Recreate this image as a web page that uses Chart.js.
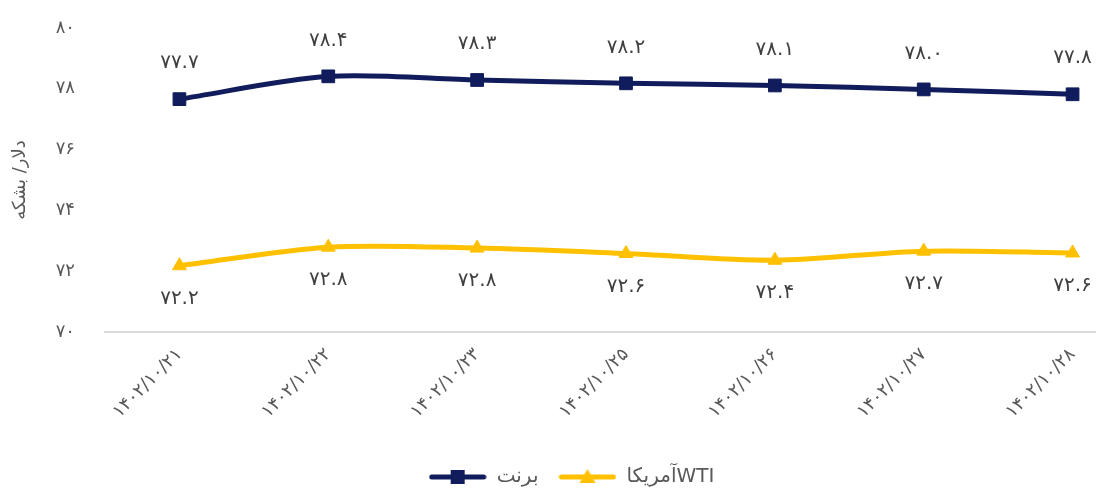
<!DOCTYPE html>
<html>
<head>
<meta charset="utf-8">
<script src="https://cdn.jsdelivr.net/npm/chart.js@4.4.1/dist/chart.umd.min.js"></script>
<style>
  html, body { margin: 0; padding: 0; background: #fff; overflow: hidden; }
  #wrap { width: 1157px; height: 497px; position: relative; }
</style>
</head>
<body>
<div id="wrap"><canvas id="c"></canvas></div>
<script>
// ---- data ----
const categories = ['1402/10/21', '1402/10/22', '1402/10/23', '1402/10/25', '1402/10/26', '1402/10/27', '1402/10/28'];
const brent = [77.66, 78.41, 78.29, 78.18, 78.11, 77.98, 77.82];
const wti = [72.18, 72.79, 72.76, 72.58, 72.36, 72.66, 72.6];
const seriesNames = ['برنت', 'آمریکاWTI'];
const yTitle = 'دلار/ بشکه';
const yMin = 70, yMax = 80, yStep = 2;

const FONT = "'DejaVu Sans', 'Noto Sans', sans-serif";
const NAVY = '#101c5b';
const GOLD = '#ffc000';

function fa(s) {
  const d = '۰۱۲۳۴۵۶۷۸۹';
  return String(s).replace(/[0-9]/g, c => d[+c]);
}

function legendIcon(color, style) {
  const cv = document.createElement('canvas');
  cv.width = 58; cv.height = 16;
  const g = cv.getContext('2d');
  g.strokeStyle = color; g.lineWidth = 5; g.lineCap = 'round';
  g.beginPath(); g.moveTo(3, 8); g.lineTo(55, 8); g.stroke();
  g.fillStyle = color;
  if (style === 'rect') {
    g.fillRect(22, 1, 14, 14);
  } else {
    g.beginPath(); g.moveTo(29, 0); g.lineTo(37, 14); g.lineTo(21, 14); g.closePath(); g.fill();
  }
  return cv;
}
const icons = [legendIcon(NAVY, 'rect'), legendIcon(GOLD, 'triangle')];

const dataLabels = {
  id: 'dataLabels',
  afterLayout(chart) {
    if (chart.legend) { chart.legend.left -= 6; chart.legend.right -= 6; }
  },
  afterDatasetsDraw(chart) {
    const ctx = chart.ctx;
    ctx.save();
    ctx.font = '20px ' + FONT;
    ctx.fillStyle = '#404040';
    ctx.textAlign = 'center';
    ctx.textBaseline = 'middle';
    chart.data.datasets.forEach((ds, i) => {
      const meta = chart.getDatasetMeta(i);
      const off = i === 0 ? -36 : 33;
      meta.data.forEach((pt, j) => {
        ctx.fillText(fa(ds.data[j].toFixed(1)), pt.x, pt.y + off);
      });
    });
    ctx.restore();
  }
};

new Chart(document.getElementById('c'), {
  type: 'line',
  data: {
    labels: categories.map(fa),
    datasets: [
      {
        label: seriesNames[0], data: brent,
        borderColor: NAVY, backgroundColor: NAVY, borderWidth: 5,
        pointStyle: 'rect', pointRadius: 9, pointBorderWidth: 1, pointBackgroundColor: NAVY, pointBorderColor: NAVY,
        tension: 0.3
      },
      {
        label: seriesNames[1], data: wti,
        borderColor: GOLD, backgroundColor: GOLD, borderWidth: 5,
        pointStyle: 'triangle', pointRadius: 8, pointBorderWidth: 1, pointBackgroundColor: GOLD, pointBorderColor: GOLD,
        tension: 0.3
      }
    ]
  },
  options: {
    responsive: true,
    maintainAspectRatio: false,
    animation: false,
    layout: { padding: { top: 28, right: 2, bottom: 0, left: 0 } },
    plugins: {
      tooltip: { enabled: false },
      legend: {
        position: 'bottom',
        labels: {
          usePointStyle: true,
          pointStyleWidth: 58,
          boxHeight: 16,
          padding: 20,
          color: '#595959',
          font: { family: FONT, size: 20 },
          generateLabels(chart) {
            const items = Chart.defaults.plugins.legend.labels.generateLabels(chart);
            items.forEach((it, i) => { it.pointStyle = icons[i]; });
            return items;
          }
        }
      }
    },
    scales: {
      x: {
        offset: true,
        grid: { display: false },
        border: { display: true, color: '#d9d9d9', width: 2 },
        ticks: { color: '#595959', font: { family: FONT, size: 18 }, minRotation: 45, maxRotation: 45, padding: 4 },
        afterFit(scale) { scale.height = 115; scale.paddingLeft = 0; scale.paddingRight = 0; }
      },
      y: {
        min: yMin, max: yMax,
        grid: { display: false },
        border: { display: false },
        ticks: { stepSize: yStep, color: '#595959', font: { family: FONT, size: 18 }, padding: 22, callback: v => fa(v) },
        title: { display: true, text: yTitle, color: '#595959', font: { family: FONT, size: 18 }, padding: { top: 10, bottom: 0 } },
        afterFit(scale) { scale.width = 105; scale.paddingTop = 0; scale.paddingBottom = 0; }
      }
    }
  },
  plugins: [dataLabels]
});
</script>
</body>
</html>
